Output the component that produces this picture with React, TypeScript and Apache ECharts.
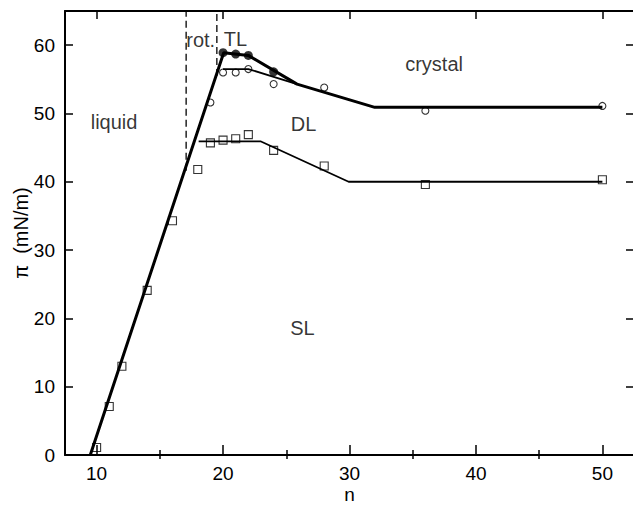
import React, { useEffect, useRef } from "react";
import * as echarts from "echarts";

// Axis ticks
const xTicks = [10, 20, 30, 40, 50];
const xMinorTicks = [15, 25, 35, 45];
const yTicks = [0, 10, 20, 30, 40, 50, 60];

// Phase boundary lines (n, pi)
const thickBoundary = [[9.5, 0], [20.05, 58.9], [22, 58.5], [25.85, 54.3], [32, 50.9], [50, 50.9]];
const upperThinBoundary = [[20, 56.5], [22, 56.5], [25.85, 54.3]];
const lowerThinBoundary = [[18.07, 45.9], [23, 45.9], [29.93, 40], [50, 40]];
const dashedRot1 = [[17.08, 41.6], [17.08, 65]];
const dashedRot2 = [[19.51, 55.5], [19.51, 65]];

// Measured points
const filledCircles = [[20, 58.9], [21, 58.7], [22, 58.5], [24, 56.1]];
const openCircles = [[19, 51.6], [20, 56.0], [21, 56.0], [22, 56.5], [24, 54.3], [28, 53.8], [36, 50.4], [50, 51.1]];
const openSquares = [[10, 1.1], [11, 7.1], [12, 13.0], [14, 24.1], [16, 34.3], [18, 41.8], [19, 45.7], [20, 46.1], [21, 46.3], [22, 46.9], [24, 44.6], [28, 42.3], [36, 39.6], [50, 40.3]];

// Region labels
const regionNames = ["liquid", "rot.", "TL", "crystal", "DL", "SL"];
const regionN = [11.38, 18.23, 20.98, 36.69, 26.36, 26.28];
const regionPi = [48.7, 60.7, 60.85, 57.3, 48.4, 18.6];

const FONT = "'Liberation Sans', Arial, sans-serif";
const X_MIN = 7.5;
const X_MAX = 52.5;
const Y_MIN = 0;
const Y_MAX = 65;

export default function App() {
  const ref = useRef<HTMLDivElement>(null);
  useEffect(() => {
    if (!ref.current) return;
    const chart = echarts.init(ref.current, null, { renderer: "svg" });
    const axisLine = { show: true, onZero: false, lineStyle: { color: "#000", width: 2 } };
    const hiddenLabel = { show: false };
    const option: any = {
      animation: false,
      backgroundColor: "#fff",
      grid: { left: 65, top: 11, width: 569, bottom: 51, containLabel: false, outerBoundsMode: "none" },
      xAxis: [
        {
          type: "value", position: "bottom", min: X_MIN, max: X_MAX,
          axisLine,
          axisTick: { show: true, inside: true, length: 10, customValues: xTicks, lineStyle: { color: "#000", width: 1.5 } },
          axisLabel: { show: true, customValues: xTicks, color: "#000", fontFamily: FONT, fontSize: 19, margin: 9 },
          splitLine: { show: false },
          name: "n", nameLocation: "middle", nameGap: 30, nameMoveOverlap: false,
          nameTextStyle: { color: "#000", fontFamily: FONT, fontSize: 19 },
        },
        {
          type: "value", position: "bottom", min: X_MIN, max: X_MAX,
          axisLine: { show: false },
          axisTick: { show: true, inside: true, length: 5, customValues: xMinorTicks, lineStyle: { color: "#000", width: 1.5 } },
          axisLabel: hiddenLabel, splitLine: { show: false },
        },
        {
          type: "value", position: "top", min: X_MIN, max: X_MAX,
          axisLine,
          axisTick: { show: true, inside: true, length: 8, customValues: xTicks, lineStyle: { color: "#000", width: 1.5 } },
          axisLabel: hiddenLabel, splitLine: { show: false },
        },
        {
          type: "value", position: "top", min: X_MIN, max: X_MAX,
          axisLine: { show: false },
          axisTick: { show: true, inside: true, length: 4, customValues: xMinorTicks, lineStyle: { color: "#000", width: 1.5 } },
          axisLabel: hiddenLabel, splitLine: { show: false },
        },
      ],
      yAxis: [
        {
          type: "value", position: "left", min: Y_MIN, max: Y_MAX,
          axisLine,
          axisTick: { show: true, inside: true, length: 8, customValues: yTicks, lineStyle: { color: "#000", width: 1.5 } },
          axisLabel: { show: true, customValues: yTicks, color: "#000", fontFamily: FONT, fontSize: 19, margin: 10 },
          splitLine: { show: false },
          name: "π  (mN/m)", nameLocation: "middle", nameGap: 34, nameMoveOverlap: false,
          nameTextStyle: { color: "#000", fontFamily: FONT, fontSize: 20 },
        },
        {
          type: "value", position: "right", min: Y_MIN, max: Y_MAX,
          axisLine: { show: false },
          axisTick: { show: true, inside: true, length: 8, customValues: yTicks, lineStyle: { color: "#000", width: 1.5 } },
          axisLabel: hiddenLabel, splitLine: { show: false },
        },
      ],
      series: [
        {
          type: "line", data: dashedRot1, showSymbol: false, silent: true,
          lineStyle: { color: "#000", width: 1.3, type: [7, 4] },
        },
        {
          type: "line", data: dashedRot2, showSymbol: false, silent: true,
          lineStyle: { color: "#000", width: 1.3, type: [7, 4] },
        },
        {
          type: "line", data: lowerThinBoundary, showSymbol: false, silent: true,
          lineStyle: { color: "#000", width: 1.8 },
        },
        {
          type: "line", data: upperThinBoundary, showSymbol: false, silent: true,
          lineStyle: { color: "#000", width: 1.8 },
        },
        {
          type: "line", data: thickBoundary, showSymbol: false, silent: true,
          lineStyle: { color: "#000", width: 3 },
        },
        {
          type: "scatter", data: openSquares, symbol: "rect", symbolSize: 8, silent: true,
          itemStyle: { color: "rgba(0,0,0,0)", borderColor: "#000", borderWidth: 1.1 },
        },
        {
          type: "scatter", data: openCircles, symbol: "circle", symbolSize: 7, silent: true,
          itemStyle: { color: "rgba(0,0,0,0)", borderColor: "#000", borderWidth: 1.1 },
        },
        {
          type: "scatter", data: filledCircles, symbol: "circle", symbolSize: 9, silent: true,
          itemStyle: { color: "#000", borderWidth: 0 },
        },
        {
          type: "scatter", symbolSize: 0, silent: true,
          data: regionNames.map((name, i) => ({ name, value: [regionN[i], regionPi[i]] })),
          label: {
            show: true, position: "inside", formatter: (p: any) => p.name,
            color: "#000", fontFamily: FONT, fontSize: 20,
          },
        },
      ],
    };
    chart.setOption(option);
    return () => chart.dispose();
  }, []);
  return (
    <div
      ref={ref}
      style={{ position: "absolute", left: 0, top: 0, width: 633, height: 506, background: "#fff" }}
    />
  );
}
